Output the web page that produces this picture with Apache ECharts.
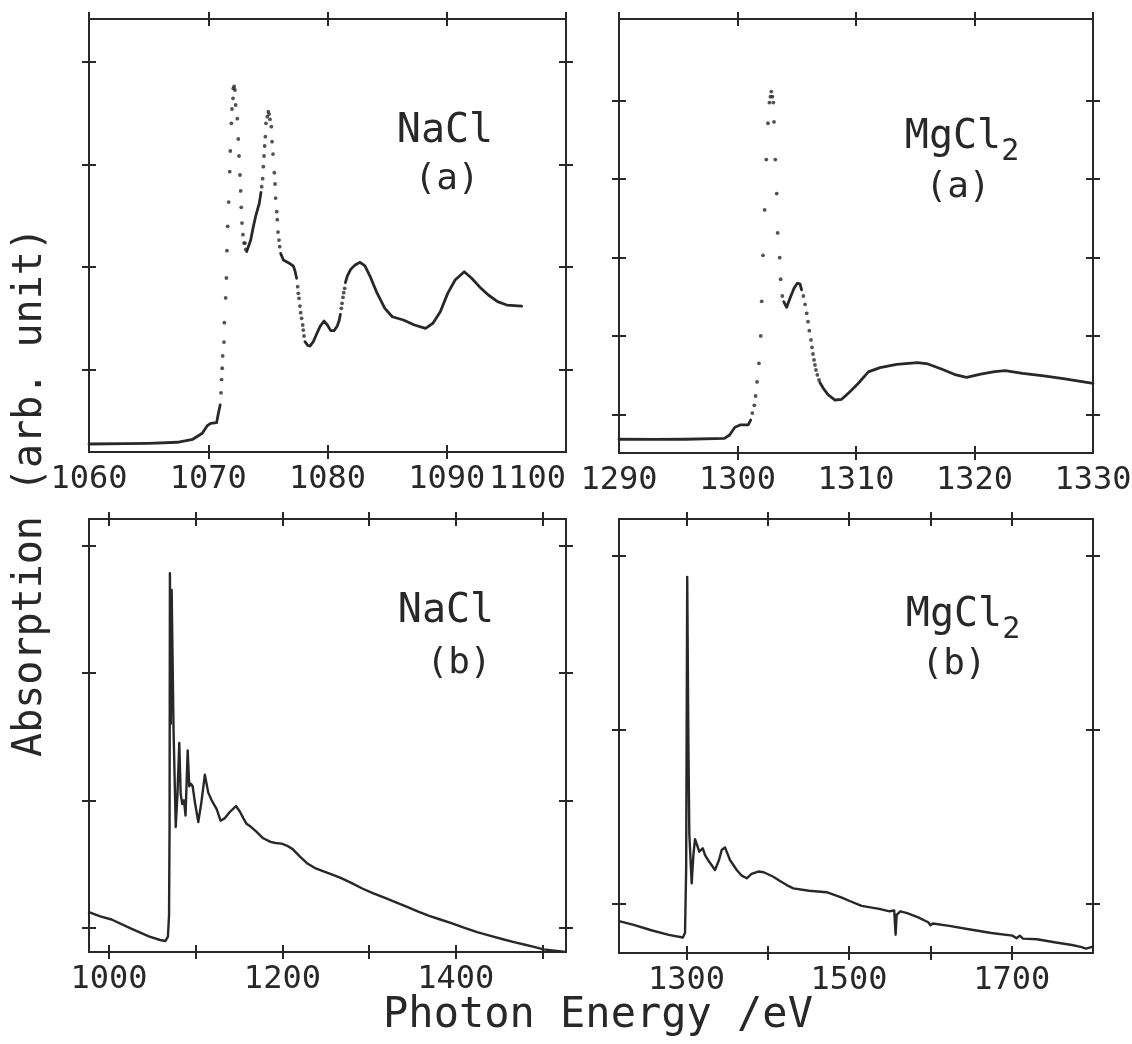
<!DOCTYPE html>
<html>
<head>
<meta charset="utf-8">
<script src="https://cdn.jsdelivr.net/npm/echarts@6/dist/echarts.min.js"></script>
<style>
  html, body { margin: 0; padding: 0; background: #ffffff; }
  #chart { width: 1132px; height: 1044px; }
</style>
</head>
<body>
<div id="chart"></div>
<script>
// ---------- NaCl, near-edge region (a): photon energy [eV], absorption [arb. unit] ----------
// dense stretches of the scan, drawn as connected traces
const naclASolid = [
  [[1060.0,0.271],[1063.0,0.274],[1065.0,0.278],[1067.4,0.288],[1068.7,0.317],[1069.5,0.376],[1069.9,0.447],[1070.2,0.473],[1070.7,0.479],[1070.85,0.571],[1071.0,0.652]],
  [[1073.22,2.148],[1073.56,2.261],[1073.78,2.392],[1074.0,2.505],[1074.28,2.619],[1074.42,2.726]],
  [[1076.07,2.131],[1076.3,2.066],[1076.72,2.04],[1077.13,2.008],[1077.27,1.962],[1077.41,1.888]],
  [[1078.11,1.27],[1078.34,1.234],[1078.53,1.227],[1078.81,1.27],[1079.09,1.344],[1079.37,1.416],[1079.71,1.471],[1079.99,1.432],[1080.27,1.377],[1080.55,1.377],[1080.82,1.422],[1080.99,1.481],[1081.08,1.536]],
  [[1081.5,1.845],[1081.66,1.91],[1081.94,1.975],[1082.31,2.018],[1082.73,2.044],[1083.14,2.008],[1083.56,1.91],[1084.15,1.745],[1084.81,1.595],[1085.43,1.513],[1086.36,1.481],[1087.29,1.432],[1088.22,1.4],[1088.84,1.449],[1089.46,1.562],[1090.08,1.741],[1090.7,1.871],[1091.47,1.952],[1092.09,1.888],[1092.87,1.79],[1093.49,1.725],[1094.26,1.66],[1095.04,1.627],[1096.28,1.617]]
];
// sparse stretches of the scan, drawn as individual points
const naclADots = [
  [1071.07,0.77],[1071.12,0.9],[1071.17,1.01],[1071.21,1.13],[1071.32,1.266],[1071.35,1.455],[1071.46,1.696],[1071.52,1.891],[1071.57,2.157],[1071.63,2.395],[1071.71,2.632],[1071.8,2.928],[1071.85,3.13],[1071.94,3.4],[1071.99,3.54],[1072.08,3.644],[1072.1,3.741],[1072.17,3.76],[1072.24,3.725],[1072.3,3.579],[1072.44,3.445],[1072.52,3.247],[1072.58,3.081],[1072.66,2.896],[1072.72,2.74],[1072.77,2.58],[1072.83,2.427],[1072.91,2.314],[1073.0,2.232],[1073.08,2.232],[1073.15,2.17],
  [1074.48,2.782],[1074.56,2.86],[1074.62,2.977],[1074.68,3.081],[1074.73,3.179],[1074.79,3.27],[1074.84,3.4],[1074.95,3.465],[1075.04,3.514],[1075.1,3.49],[1075.18,3.439],[1075.29,3.367],[1075.35,3.221],[1075.43,3.1],[1075.54,2.918],[1075.6,2.808],[1075.65,2.671],[1075.74,2.538],[1075.79,2.46],[1075.85,2.339],[1075.93,2.261],[1075.99,2.196],
  [1077.5,1.806],[1077.55,1.741],[1077.61,1.692],[1077.69,1.617],[1077.75,1.552],[1077.83,1.497],[1077.92,1.432],[1077.97,1.383],[1078.03,1.325],
  [1081.16,1.595],[1081.22,1.644],[1081.3,1.702],[1081.36,1.748],[1081.44,1.79]
];

// ---------- MgCl2, near-edge region (a) ----------
const mgcl2ASolid = [
  [[1290.0,0.687],[1293.0,0.685],[1295.6,0.687],[1298.9,0.699],[1299.33,0.741],[1299.78,0.839],[1300.22,0.869],[1300.9,0.869],[1301.11,0.932]],
  [[1303.9,2.44],[1304.15,2.368],[1304.43,2.483],[1304.77,2.61],[1305.05,2.674],[1305.27,2.665],[1305.41,2.589]],
  [[1306.95,1.41],[1307.24,1.336],[1307.66,1.251],[1308.23,1.187],[1308.79,1.196],[1309.49,1.293],[1310.2,1.4],[1311.04,1.545],[1312.03,1.6],[1313.43,1.64],[1315.19,1.663],[1316.07,1.646],[1317.26,1.578],[1318.44,1.506],[1319.33,1.476],[1320.52,1.518],[1321.7,1.548],[1322.59,1.561],[1324.07,1.527],[1325.85,1.493],[1327.63,1.455],[1330.0,1.4]]
];
const mgcl2ADots = [
  [1301.25,1.02],[1301.42,1.119],[1301.53,1.238],[1301.65,1.417],[1301.81,1.654],[1301.96,2.003],[1302.04,2.444],[1302.15,3.03],[1302.29,3.608],[1302.43,4.249],[1302.57,4.712],[1302.69,4.975],[1302.78,5.05],[1302.85,5.115],[1302.95,5.05],[1303.02,4.975],[1303.08,4.729],[1303.19,4.249],[1303.31,3.816],[1303.39,3.315],[1303.56,3.0],[1303.64,2.725],[1303.78,2.512],
  [1305.56,2.512],[1305.7,2.406],[1305.84,2.291],[1305.95,2.185],[1306.06,2.07],[1306.2,1.952],[1306.29,1.858],[1306.37,1.773],[1306.46,1.697],[1306.54,1.633],[1306.62,1.569],[1306.74,1.506],[1306.88,1.442]
];

// ---------- NaCl, wide scan (b) ----------
const naclB = [
  [977,1.122],[990,1.09],[1003,1.065],[1025,0.995],[1046,0.933],[1059,0.904],[1065,0.896],[1068,0.93],[1069.3,1.1],[1069.9,1.8],[1070.3,3.78],[1071.3,2.6],[1072.3,3.65],[1074.5,2.55],[1077.0,1.79],[1079.0,2.05],[1081.1,2.45],[1082.7,2.05],[1084.5,1.97],[1086.5,2.0],[1088.3,1.88],[1090.8,2.39],[1092.6,2.11],[1094.5,2.13],[1096.5,2.11],[1099.2,1.98],[1103.0,1.83],[1106.5,1.98],[1110.6,2.2],[1114.5,2.06],[1118.4,2.0],[1124.2,1.93],[1128.7,1.84],[1133.7,1.86],[1139.6,1.91],[1146.5,1.955],[1151.1,1.91],[1154.9,1.86],[1158.7,1.815],[1164,1.79],[1169.3,1.758],[1177.9,1.702],[1186.3,1.674],[1192,1.665],[1199.1,1.66],[1205,1.645],[1211.9,1.617],[1220,1.56],[1228.9,1.504],[1237,1.47],[1245.9,1.447],[1256,1.42],[1267.2,1.391],[1280,1.35],[1292.7,1.306],[1305,1.27],[1318.3,1.235],[1331,1.2],[1343.8,1.164],[1356,1.128],[1369.3,1.093],[1382,1.065],[1394.9,1.037],[1410,1.0],[1424.6,0.966],[1440,0.937],[1454.3,0.91],[1467,0.888],[1479.9,0.867],[1490,0.85],[1501.2,0.831],[1514,0.82],[1526.6,0.81]
];

// ---------- MgCl2, wide scan (b) ----------
const mgcl2B = [
  [1217,0.898],[1235.1,0.877],[1256.7,0.846],[1278.2,0.819],[1295.5,0.804],[1298.2,0.83],[1299.6,1.2],[1300.9,2.88],[1302.3,1.94],[1303.5,1.4],[1306.4,1.116],[1308.5,1.28],[1310.5,1.37],[1312.6,1.365],[1315.8,1.298],[1320,1.318],[1322.8,1.279],[1328,1.24],[1335.1,1.193],[1340,1.25],[1343.3,1.308],[1347.4,1.323],[1353.5,1.25],[1361.8,1.193],[1368,1.16],[1374.1,1.145],[1380,1.17],[1388.2,1.184],[1395,1.18],[1406.8,1.154],[1415,1.13],[1423.3,1.106],[1431.4,1.087],[1450.7,1.073],[1472.3,1.065],[1489.5,1.037],[1503,1.01],[1515.4,0.986],[1537,0.969],[1549.9,0.955],[1555.5,0.96],[1557.2,0.82],[1558.5,0.934],[1563,0.955],[1571.5,0.944],[1585,0.92],[1597.3,0.892],[1600,0.875],[1603,0.885],[1623.2,0.871],[1649.1,0.85],[1675,0.83],[1700.8,0.815],[1706,0.8],[1710,0.815],[1713.8,0.798],[1731,0.794],[1752.6,0.777],[1774.1,0.761],[1785,0.75],[1791.4,0.74],[1800,0.752]
];

// ---------- axis ticks and labels ----------
const naclATicks = [1060, 1070, 1080, 1090, 1100];
const naclALabels = [1060, 1070, 1080, 1090, 1100];
const mgcl2ATicks = [1290, 1300, 1310, 1320, 1330];
const mgcl2ALabels = [1290, 1300, 1310, 1320, 1330];
const naclBTicks = [1000, 1100, 1200, 1300, 1400, 1500];
const naclBLabels = [1000, 1200, 1400];
const mgcl2BTicks = [1300, 1400, 1500, 1600, 1700];
const mgcl2BLabels = [1300, 1500, 1700];
const naclAYTicks = [1, 2, 3, 4];
const mgcl2AYTicks = [1, 2, 3, 4, 5];
const naclBYTicks = [1, 2, 3, 4];
const mgcl2BYTicks = [1, 2, 3];

const INK = '#282828';
const FONT = '"DejaVu Sans Mono", monospace';
const TICK_LEN = 14;

const panels = [
  { box: [89, 19, 477, 433], x: [1060, 1100], y: [0.193, 4.418],
    topTicks: naclATicks, bottomTicks: [1070, 1080, 1090], labels: naclALabels, yTicks: naclAYTicks,
    solid: naclASolid, dots: naclADots, alignMax: 'right' },
  { box: [619, 19, 474, 434], x: [1290, 1330], y: [0.512, 6.04],
    topTicks: mgcl2ATicks, bottomTicks: [1300, 1310, 1320], labels: mgcl2ALabels, yTicks: mgcl2AYTicks,
    solid: mgcl2ASolid, dots: mgcl2ADots },
  { box: [89, 519, 477, 433], x: [977, 1527], y: [0.81, 4.206],
    topTicks: naclBTicks, bottomTicks: naclBTicks, labels: naclBLabels, yTicks: naclBYTicks,
    solid: [naclB], dots: [] },
  { box: [619, 519, 474, 434], x: [1217, 1800], y: [0.715, 3.213],
    topTicks: mgcl2BTicks, bottomTicks: mgcl2BTicks, labels: mgcl2BLabels, yTicks: mgcl2BYTicks,
    solid: [mgcl2B], dots: [] }
];

const grid = [], xAxis = [], yAxis = [], series = [];

function tickStyle(values) {
  return { show: true, inside: false, length: TICK_LEN, customValues: values,
           lineStyle: { color: INK, width: 2 } };
}

panels.forEach((p, i) => {
  grid.push({
    left: p.box[0], top: p.box[1], width: p.box[2], height: p.box[3],
    show: true, borderColor: INK, borderWidth: 2, backgroundColor: 'transparent',
    containLabel: false, outerBoundsMode: 'none'
  });
  const xBase = { type: 'value', gridIndex: i, min: p.x[0], max: p.x[1],
                  axisLine: { show: false }, splitLine: { show: false }, offset: -TICK_LEN / 2 };
  xAxis.push(Object.assign({}, xBase, {
    position: 'bottom',
    axisTick: tickStyle(p.bottomTicks),
    axisLabel: { show: true, customValues: p.labels, margin: 19, color: INK,
                 fontFamily: FONT, fontSize: 32, alignMaxLabel: p.alignMax || null,
                 formatter: v => String(v) }
  }));
  xAxis.push(Object.assign({}, xBase, {
    position: 'top',
    axisTick: tickStyle(p.topTicks),
    axisLabel: { show: false }
  }));
  const yBase = { type: 'value', gridIndex: i, min: p.y[0], max: p.y[1],
                  axisLine: { show: false }, splitLine: { show: false }, offset: -TICK_LEN / 2,
                  axisTick: tickStyle(p.yTicks), axisLabel: { show: false } };
  yAxis.push(Object.assign({}, yBase, { position: 'left' }));
  yAxis.push(Object.assign({}, yBase, { position: 'right' }));

  p.solid.forEach(seg => {
    series.push({ type: 'line', xAxisIndex: 2 * i, yAxisIndex: 2 * i, data: seg,
                  showSymbol: false, silent: true,
                  lineStyle: { color: INK, width: i < 2 ? 2.8 : 2.4, join: 'round', cap: 'round' } });
  });
  if (p.dots.length) {
    series.push({ type: 'scatter', xAxisIndex: 2 * i, yAxisIndex: 2 * i, data: p.dots,
                  symbolSize: 3.8, silent: true, itemStyle: { color: INK } });
  }
});

function label(text, x, y, size) {
  return { type: 'text', x: x, y: y, silent: true,
           style: { text: text, fill: INK, font: size + 'px ' + FONT,
                    textAlign: 'center', textVerticalAlign: 'middle' } };
}
function formula(x, y) {
  // MgCl with a lowered, smaller 2
  return { type: 'text', x: x, y: y, silent: true,
           style: { text: '{m|MgCl}{s|2}', textAlign: 'center', textVerticalAlign: 'top', fill: INK,
                    rich: { m: { fontSize: 40, fontFamily: FONT, fill: INK, lineHeight: 40, verticalAlign: 'top' },
                            s: { fontSize: 30, fontFamily: FONT, fill: INK, lineHeight: 49, verticalAlign: 'bottom' } } } };
}

const graphic = [
  label('NaCl', 445, 132, 40),
  label('(a)', 447, 180, 36),
  formula(962, 118),
  label('(a)', 958, 188, 36),
  label('NaCl', 446, 612, 40),
  label('(b)', 459, 664, 36),
  formula(963, 596),
  label('(b)', 954, 665, 36),
  label('Photon Energy /eV', 598, 1016, 42),
  Object.assign(label('Absorption (arb. unit)', 0, 0, 40), { x: 31, y: 492, rotation: Math.PI / 2 })
];

const chart = echarts.init(document.getElementById('chart'), null, { renderer: 'canvas' });
chart.setOption({
  animation: false,
  backgroundColor: '#ffffff',
  grid, xAxis, yAxis, series, graphic
});
</script>
</body>
</html>
